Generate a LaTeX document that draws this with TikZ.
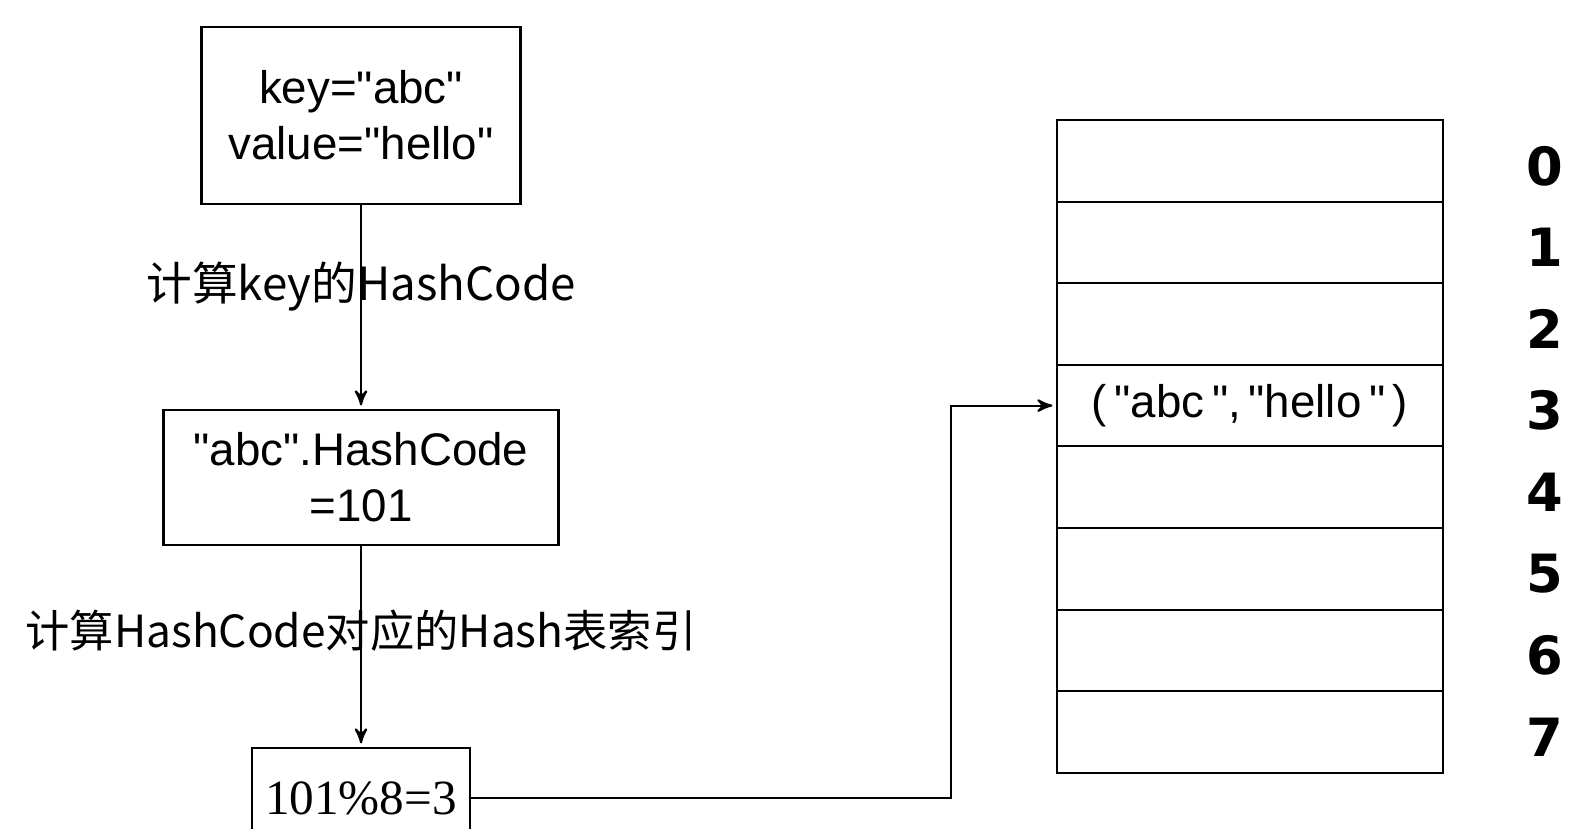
\documentclass[tikz,border=0pt]{standalone}
\usepackage{fontspec}
\setmainfont{Liberation Sans}[Ligatures=TeXOff]
\newfontfamily\cjk{Noto Sans CJK SC}[Ligatures=TeXOff]
\newfontfamily\modfont{Liberation Serif}[Ligatures=TeXOff]
\newfontfamily\idxfont{DejaVu Sans}
\usetikzlibrary{arrows,positioning}

\begin{document}
\begin{tikzpicture}
            [->,>=stealth',shorten >=1pt,semithick,
             box/.style={rectangle,draw,align=center,font=\fontsize{13}{16}\selectfont},
             cell/.style={rectangle,draw,minimum width=3.86cm,minimum height=0.816cm},
             calc/.style={font=\cjk\fontsize{13}{15}\selectfont},
             idx/.style={font=\idxfont\bfseries\fontsize{15}{17}\selectfont}]

            \useasboundingbox (0,0) rectangle (15.71,-8.29);

            % left column
            \node (entry) [box,minimum width=3.19cm,minimum height=1.77cm] at (3.61,-1.155) {key="abc"\\value="hello"};
            \node (code) [box,minimum width=3.95cm,minimum height=1.35cm] at (3.61,-4.775) {"abc".HashCode\\=101};
            \node (mod) [box,minimum width=2.18cm,minimum height=1.0cm,font=\modfont\fontsize{14}{16}\selectfont] at (3.61,-7.98) {101\%8=3};

            \path (entry) edge node[calc,pos=0.4] {计算key的HashCode} (code);
            \path (code) edge node[calc,pos=0.42,font=\cjk\fontsize{12.6}{15}\selectfont] {计算HashCode对应的Hash表索引} (mod);

            % hash table
            \foreach \i in {0,...,7} {
                \node (r\i) [cell] at (12.5,{-1.608-0.816*\i}) {};
                \node (n\i) [idx] at (15.45,{-1.66-0.816*\i}) {\i};
            }
            \node (pair) [font=\fontsize{13}{16}\selectfont] at (r3) {(\,"abc\,",\,"hello\,"\,)};

            \draw (mod.east) -- ++(4.8,0) |- (r3.west);
        \end{tikzpicture}
\end{document}
